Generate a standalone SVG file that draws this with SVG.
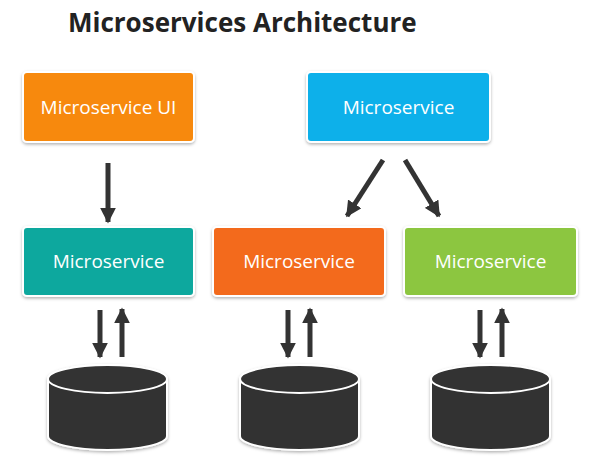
<svg xmlns="http://www.w3.org/2000/svg" width="591" height="460" viewBox="0 0 591 460">
<defs>
<marker id="ah" viewBox="0 0 10 10" refX="9" refY="5" markerWidth="3.2" markerHeight="3.2" orient="auto" markerUnits="strokeWidth"><path d="M0,0 L10,5 L0,10 Z" fill="#333"/></marker>
<filter id="sh" x="-10%" y="-10%" width="120%" height="130%"><feDropShadow dx="0" dy="1.5" stdDeviation="1.5" flood-color="#000" flood-opacity="0.3"/></filter>
</defs>
<style>
.box{stroke:#fff;stroke-width:2;filter:url(#sh)}
.lbl{font-family:"Open Sans","Liberation Sans",sans-serif;font-size:19px;fill:#fff;text-anchor:middle}
.ar{stroke:#333;stroke-width:5;fill:none;marker-end:url(#ah)}
.db{fill:#333;stroke:#fff;stroke-width:2;filter:url(#sh)}
</style>
<rect width="591" height="460" fill="#fff"/>
<text x="68" y="32" font-family="'Open Sans','Liberation Sans',sans-serif" font-size="26" font-weight="bold" fill="#222">Microservices Architecture</text>
<g id="n-ui"><rect class="box" x="23" y="72" width="171" height="70" rx="4" fill="#f7890d"/><text class="lbl" x="108.5" y="114">Microservice UI</text></g>
<g id="n-top"><rect class="box" x="307" y="72" width="183" height="70" rx="4" fill="#0db0ea"/><text class="lbl" x="398.5" y="114">Microservice</text></g>
<g id="n-teal"><rect class="box" x="23" y="227" width="171" height="69" rx="4" fill="#0fa89e"/><text class="lbl" x="108.5" y="268">Microservice</text></g>
<g id="n-orange"><rect class="box" x="213" y="227" width="172" height="69" rx="4" fill="#f36b1c"/><text class="lbl" x="299" y="268">Microservice</text></g>
<g id="n-green"><rect class="box" x="404" y="227" width="173" height="69" rx="4" fill="#8cc63f"/><text class="lbl" x="490.5" y="268">Microservice</text></g>
<g id="db1"><path class="db" d="M48,379 L48,436 A59.5,14 0 0 0 167,436 L167,379 A59.5,14 0 0 0 48,379 Z"/><ellipse cx="107.5" cy="379" rx="59.5" ry="14" fill="#333" stroke="#fff" stroke-width="2"/></g>
<g id="db2"><path class="db" d="M240,379 L240,436 A59.5,14 0 0 0 359,436 L359,379 A59.5,14 0 0 0 240,379 Z"/><ellipse cx="299.5" cy="379" rx="59.5" ry="14" fill="#333" stroke="#fff" stroke-width="2"/></g>
<g id="db3"><path class="db" d="M431,379 L431,436 A59.5,14 0 0 0 550,436 L550,379 A59.5,14 0 0 0 431,379 Z"/><ellipse cx="490.5" cy="379" rx="59.5" ry="14" fill="#333" stroke="#fff" stroke-width="2"/></g>
<g id="connectors">
<line class="ar" x1="108" y1="163" x2="108" y2="222"/>
<line class="ar" x1="383" y1="160" x2="347" y2="216"/>
<line class="ar" x1="405" y1="160" x2="439" y2="216"/>
<line class="ar" x1="100" y1="310" x2="100" y2="357"/>
<line class="ar" x1="122" y1="357" x2="122" y2="309"/>
<line class="ar" x1="288" y1="310" x2="288" y2="357"/>
<line class="ar" x1="310" y1="357" x2="310" y2="309"/>
<line class="ar" x1="480" y1="310" x2="480" y2="357"/>
<line class="ar" x1="502" y1="357" x2="502" y2="309"/>
</g>
</svg>
